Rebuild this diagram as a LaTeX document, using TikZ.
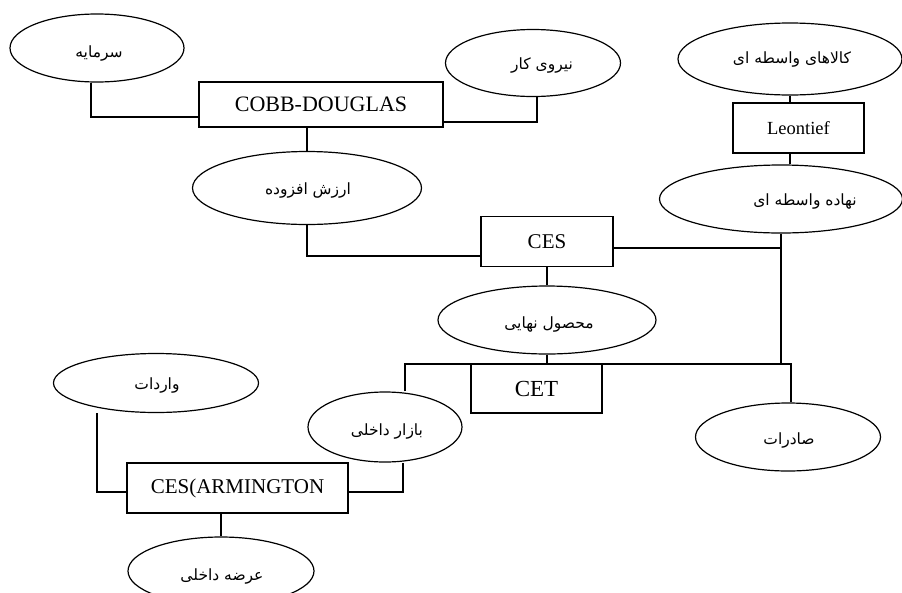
\documentclass[tikz,border=0pt]{standalone}
\usepackage{fontspec}
\setmainfont{Liberation Serif}
\newfontfamily\arabicfont[Script=Arabic]{DejaVu Sans}
\TeXXeTstate=1
\usetikzlibrary{shapes.geometric}
\begin{document}
\begin{tikzpicture}[x=1pt,y=-1pt, line width=1.2pt,
  ell/.style={draw, ellipse, inner sep=0pt, line width=1.2pt},
  fa/.style={inner sep=0pt, font=\arabicfont\fontsize{15.5}{18}\selectfont},
  box/.style={draw, rectangle, inner sep=0pt, line width=1.2pt, font=\fontsize{21}{24}\selectfont},
  conn/.style={draw, line width=1.2pt}]
\useasboundingbox (0,0) rectangle (902,592);
% ellipses
\node[ell, minimum width=174pt, minimum height=68pt] (sarmaye) at (97,48) {};
\node[ell, minimum width=175pt, minimum height=67pt] (niru) at (533,63) {};
\node[ell, minimum width=224pt, minimum height=72pt] (kala) at (790,59) {};
\node[ell, minimum width=243pt, minimum height=68pt] (nahade) at (781,199) {};
\node[ell, minimum width=229pt, minimum height=73pt] (arzesh) at (307,188) {};
\node[ell, minimum width=218pt, minimum height=68pt] (mahsul) at (547,320) {};
\node[ell, minimum width=205pt, minimum height=59pt] (vardat) at (156,383) {};
\node[ell, minimum width=154pt, minimum height=70pt] (bazar) at (385,427) {};
\node[ell, minimum width=186pt, minimum height=68pt] (arz) at (221,571) {};
\node[ell, minimum width=185pt, minimum height=68pt] (saderat) at (788,437) {};
% ellipse texts
\node[fa] (t-sarmaye) at (99,54) {\beginR سرمایه\endR};
\node[fa] (t-niru) at (542,66) {\beginR نیروی کار\endR};
\node[fa] (t-kala) at (792,60) {\beginR کالاهای واسطه ای\endR};
\node[fa] (t-nahade) at (805,201) {\beginR نهاده واسطه ای\endR};
\node[fa] (t-arzesh) at (308,190) {\beginR ارزش افزوده\endR};
\node[fa] (t-mahsul) at (549,324) {\beginR محصول نهایی\endR};
\node[fa] (t-vardat) at (157,385) {\beginR واردات\endR};
\node[fa] (t-bazar) at (387,431) {\beginR بازار داخلی\endR};
\node[fa] (t-arz) at (222,576) {\beginR عرضه داخلی\endR};
\node[fa] (t-saderat) at (789,440) {\beginR صادرات\endR};
% boxes
\node[box, minimum width=244pt, minimum height=45pt, font=\fontsize{22}{26}\selectfont] (cobb) at (321,104.5) {COBB-DOUGLAS};
\node[box, minimum width=131pt, minimum height=50pt, font=\fontsize{18.5}{22}\selectfont] (leon) at (798.5,128) {Leontief};
\node[box, minimum width=132pt, minimum height=50pt] (ces) at (547,241.5) {CES};
\node[box, minimum width=131pt, minimum height=49pt, font=\fontsize{23}{27}\selectfont] (cet) at (536.5,388.5) {CET};
\node[box, minimum width=221pt, minimum height=50pt] (arm) at (237.5,488) {CES(ARMINGTON};
% junction coordinates
\coordinate (bl) at (405,364);
\coordinate (br) at (791,364);
% connectors
\draw[conn] ([xshift=-6pt]sarmaye.south) |- ([yshift=-12.5pt]cobb.west);
\draw[conn] ([xshift=4pt]niru.south) |- ([yshift=-17.5pt]cobb.east);
\draw[conn] (arzesh.north) -- (arzesh.north |- cobb.south);
\draw[conn] (arzesh.south) |- ([yshift=-14.5pt]ces.west);
\draw[conn] (kala.south) -- (kala.south |- leon.north);
\draw[conn] (kala.south |- leon.south) -- (kala.south |- nahade.north);
\draw[conn] ([yshift=-6.5pt]ces.east) -- ([yshift=-6.5pt]ces.east -| nahade.south);
\draw[conn] (nahade.south) -- (nahade.south |- bl);
\draw[conn] (ces.south) -- (ces.south |- mahsul.north);
\draw[conn] (mahsul.south) -- (mahsul.south |- cet.north);
\draw[conn] (bl |- bazar.north) -- (bl) -- (br) -- (br |- saderat.north);
\draw[conn] ([xshift=-59pt]vardat.south) |- ([yshift=-4pt]arm.west);
\draw[conn] ([yshift=-4pt]arm.east) -| ([xshift=18pt]bazar.south);
\draw[conn] (arz.north) -- (arz.north |- arm.south);
\end{tikzpicture}
\end{document}
